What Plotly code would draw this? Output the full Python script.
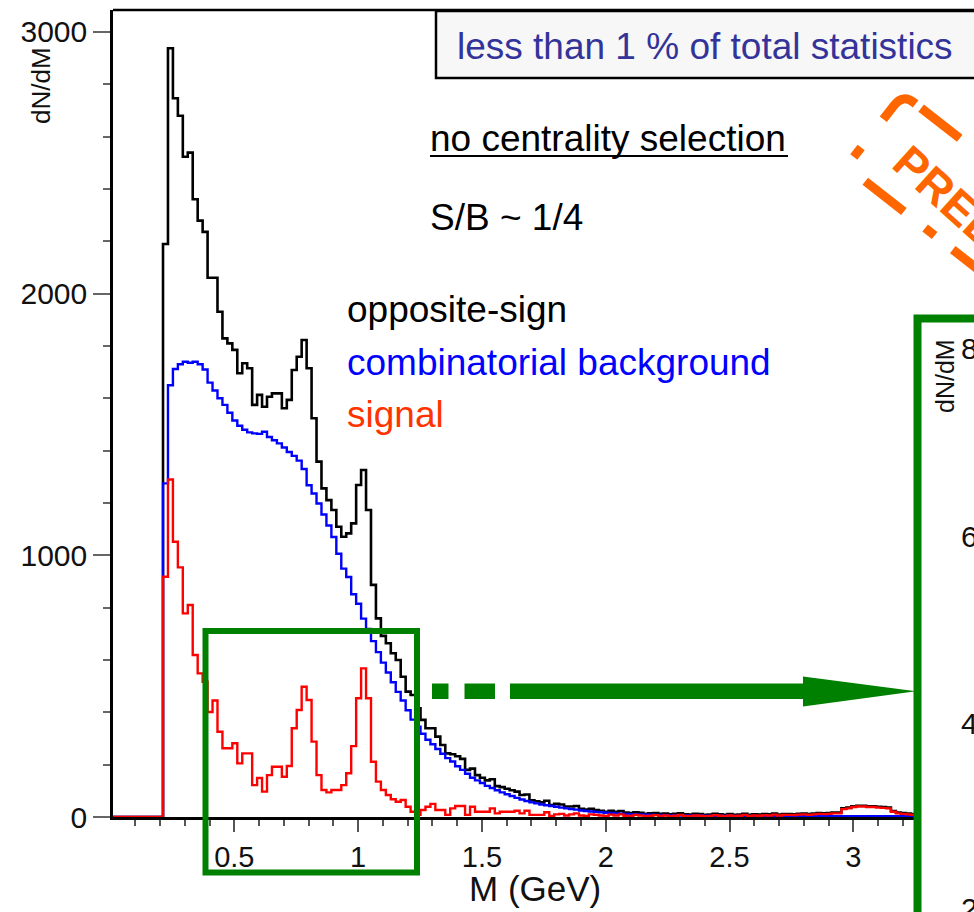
import math
import plotly.graph_objects as go

# ---------------- data ----------------
bin_start = 0.212      # GeV, lower edge of first filled bin
bin_width = 0.02       # GeV

opposite_sign = [
    2190, 2938, 2747, 2680, 2523, 2539, 2361, 2279, 2236, 2061,
    2061, 1931, 1829, 1810, 1785, 1696, 1734, 1715, 1575, 1613,
    1568, 1606, 1619, 1619, 1562, 1594, 1708, 1759, 1823, 1715,
    1524, 1358, 1256, 1211, 1173, 1109, 1071, 1084, 1122, 1269,
    1326, 1173, 887, 759, 692, 664, 626, 600, 536, 479,
    466, 415, 371, 339, 339, 307, 275, 243, 240, 232,
    222, 180, 185, 160, 150, 140, 144, 118, 114, 108,
    102, 97, 84, 86, 64, 60, 56, 62, 46, 50,
    48, 40, 40, 42, 31, 28, 31, 27, 24, 20,
    24, 20, 23, 17, 15, 18, 16, 12, 14, 15,
    12, 13, 10, 12, 14, 10, 9, 12, 11, 8,
    9, 12, 10, 8, 11, 8, 9, 12, 8, 10,
    9, 11, 10, 13, 9, 11, 11, 10, 12, 13,
    11, 13, 15, 14, 15, 17, 17, 33, 36, 41,
    43, 43, 41, 41, 39, 38, 36, 23, 17, 15,
    13, 11, 11, 9, 9, 9,
]

comb_background = [
    1275, 1650, 1712, 1730, 1740, 1736, 1740, 1730, 1710, 1660,
    1630, 1600, 1575, 1545, 1515, 1495, 1480, 1470, 1466, 1464,
    1472, 1452, 1440, 1428, 1412, 1395, 1380, 1362, 1330, 1268,
    1236, 1198, 1156, 1114, 1070, 1006, 949, 917, 851, 815,
    758, 719, 672, 630, 590, 552, 515, 478, 445, 408,
    372, 345, 318, 295, 278, 260, 242, 225, 212, 194,
    180, 165, 150, 140, 130, 119, 111, 102, 94, 87,
    80, 73, 67, 61, 56, 52, 48, 45, 42, 39,
    36, 33, 30, 28, 25, 23, 21, 19, 18, 16,
    15, 14, 13, 12, 11, 10, 10, 9, 9, 8,
    8, 7, 7, 7, 6, 6, 6, 6, 6, 5,
    5, 5, 5, 5, 5, 4, 4, 4, 4, 4,
    4, 4, 4, 4, 3, 3, 3, 3, 3, 3,
    3, 3, 3, 3, 3, 3, 3, 3, 3, 3,
    3, 3, 3, 3, 3, 3, 3, 3, 3, 3,
    3, 3, 3, 3, 3, 3,
]

signal = [
    918, 1290, 1052, 954, 778, 810, 619, 549, 517, 401,
    445, 326, 263, 263, 282, 205, 243, 243, 122, 149,
    97, 160, 192, 192, 154, 195, 339, 409, 498, 447,
    288, 160, 103, 94, 103, 103, 122, 167, 271, 454,
    568, 454, 211, 135, 103, 84, 68, 58, 65, 39,
    20, 8, 27, 39, 50, 27, 27, 8, 33, 42,
    42, 8, 39, 20, 20, 20, 33, 14, 20, 20,
    20, 24, 14, 24, 8, 8, 8, 18, 4, 10,
    12, 6, 10, 14, 6, 4, 10, 8, 6, 4,
    9, 6, 10, 5, 4, 8, 6, 3, 5, 7,
    4, 6, 3, 5, 8, 4, 3, 6, 5, 3,
    4, 7, 5, 3, 6, 4, 5, 8, 4, 6,
    5, 7, 6, 9, 6, 8, 8, 7, 9, 10,
    8, 10, 12, 11, 12, 14, 14, 30, 33, 38,
    40, 40, 38, 38, 36, 35, 33, 20, 14, 12,
    10, 8, 8, 6, 6, 6,
]

x_tick_vals = [0.5, 1, 1.5, 2, 2.5, 3]
x_tick_text = ["0.5", "1", "1.5", "2", "2.5", "3"]
y_tick_vals = [0, 1000, 2000, 3000]
y_tick_text = ["0", "1000", "2000", "3000"]
inset_tick_text = ["800", "600", "400", "200"]

series_names = ["opposite-sign", "combinatorial background", "signal"]
series_colors = ["#000000", "#0000ff", "#ff0000"]

# ---------------- layout geometry ----------------
W, H = 974, 912
ML, MR, MT, MB = 113, 0, 10, 95
PW, PH = W - ML - MR, H - MT - MB
X_RANGE = [0.01, 3.4875]
Y_RANGE = [0, 3084]

FONT = "Liberation Sans, Arial, Helvetica, sans-serif"


def fx(p):
    return (p - ML) / PW


def fy(p):
    return (H - MB - p) / PH


def step_xy(values):
    edges = [bin_start + i * bin_width for i in range(len(values) + 1)]
    xs = [X_RANGE[0]] + edges
    ys = [0] + list(values) + [values[-1]]
    return xs, ys


fig = go.Figure()
for vals, name, col, w in zip([opposite_sign, comb_background, signal],
                              series_names, series_colors, [2.6, 2.4, 2.4]):
    xs, ys = step_xy(vals)
    fig.add_trace(go.Scatter(x=xs, y=ys, mode="lines", name=name,
                             line=dict(color=col, width=w, shape="hv"),
                             hoverinfo="skip", cliponaxis=True))

shapes = []
annotations = []

# top frame line
shapes.append(dict(type="line", xref="paper", yref="paper", x0=0, x1=1.05,
                   y0=1, y1=1, line=dict(color="black", width=2.5), layer="above"))

# statistics box
shapes.append(dict(type="rect", xref="paper", yref="paper",
                   x0=fx(436), x1=fx(1000), y0=fy(78), y1=fy(11),
                   fillcolor="#f7f7f7", line=dict(color="black", width=2.5), layer="above"))
annotations.append(dict(text="less than 1 % of total statistics", xref="paper", yref="paper",
                        x=fx(455), y=fy(46), xanchor="left", yanchor="middle", showarrow=False,
                        font=dict(family=FONT, size=37, color="#333399")))

# text labels
def label(txt, px_, py_, color="black", size=37):
    annotations.append(dict(text=txt, xref="paper", yref="paper", x=fx(px_), y=fy(py_),
                            xanchor="left", yanchor="middle", showarrow=False,
                            font=dict(family=FONT, size=size, color=color)))

label("no centrality selection", 428, 138)
shapes.append(dict(type="line", xref="paper", yref="paper", x0=fx(430), x1=fx(788),
                   y0=fy(156), y1=fy(156), line=dict(color="black", width=2)))
label("S/B ~ 1/4", 428, 217)
label(series_names[0], 345, 309, "black")
label(series_names[1], 345, 362, "#0000ff")
label(series_names[2], 345, 415, "#ff3300")

# axis titles
annotations.append(dict(text="M (GeV)", xref="paper", yref="paper", x=fx(535), y=fy(888),
                        xanchor="center", yanchor="middle", showarrow=False,
                        font=dict(family=FONT, size=35, color="#111111")))
annotations.append(dict(text="dN/dM", xref="paper", yref="paper", x=fx(41), y=fy(86),
                        xanchor="center", yanchor="middle", showarrow=False, textangle=-90,
                        font=dict(family=FONT, size=26, color="#111111")))

GREEN = "#008000"
# zoom box
shapes.append(dict(type="rect", xref="paper", yref="paper",
                   x0=fx(205.5), x1=fx(417), y0=fy(872.5), y1=fy(631),
                   line=dict(color=GREEN, width=6), layer="above"))

# dashed arrow
def rect_path(x0, x1, y0, y1):
    return (f"M {fx(x0)} {fy(y0)} L {fx(x1)} {fy(y0)} L {fx(x1)} {fy(y1)} "
            f"L {fx(x0)} {fy(y1)} Z")

arrow_y0, arrow_y1 = 683.5, 699
for a, b in [(432, 448.5), (464.5, 495), (510, 804)]:
    shapes.append(dict(type="path", xref="paper", yref="paper", path=rect_path(a, b, arrow_y0, arrow_y1),
                       fillcolor=GREEN, line=dict(width=0), layer="above"))
head = (f"M {fx(803)} {fy(676.5)} L {fx(916)} {fy(691.3)} L {fx(803)} {fy(706.5)} Z")
shapes.append(dict(type="path", xref="paper", yref="paper", path=head,
                   fillcolor=GREEN, line=dict(width=0), layer="above"))

# inset box (cut at the figure edge)
shapes.append(dict(type="rect", xref="paper", yref="paper",
                   x0=fx(917.5), x1=fx(1200), y0=fy(1200), y1=fy(318.5),
                   fillcolor="white", line=dict(color=GREEN, width=8), layer="above"))
for txt, yy in zip(inset_tick_text, [348, 536, 723, 908]):
    annotations.append(dict(text=txt, xref="paper", yref="paper", x=fx(959), y=fy(yy),
                            xanchor="left", yanchor="middle", showarrow=False,
                            font=dict(family=FONT, size=30, color="#111111")))
annotations.append(dict(text="dN/dM", xref="paper", yref="paper", x=fx(945), y=fy(376),
                        xanchor="center", yanchor="middle", showarrow=False, textangle=-90,
                        font=dict(family=FONT, size=25, color="#111111")))

# PRELIMINARY stamp
ORANGE = "#ff6600"
ang = math.radians(38)
ux, uy = math.cos(ang), math.sin(ang)
vx, vy = -math.sin(ang), math.cos(ang)
CX, CY = 903, 94


def loc(a, b):
    return CX + a * ux + b * vx, CY + a * uy + b * vy


def P(a, b):
    x, y = loc(a, b)
    return f"{fx(x)} {fy(y)}"

r = 14
stamp = (f"M {P(0, 32)} L {P(0, r)} Q {P(0, 0)} {P(r, 0)} L {P(16, 0)} "
         f"M {P(23, 0)} L {P(72, 0)} "
         f"M {P(0, 68)} L {P(0, 80)} "
         f"M {P(24, 92)} L {P(73, 92)} "
         f"M {P(100, 92)} L {P(112, 92)} "
         f"M {P(135, 92)} L {P(184, 92)} "
         f"M {P(100, 0)} L {P(112, 0)}")
shapes.append(dict(type="path", xref="paper", yref="paper", path=stamp,
                   line=dict(color=ORANGE, width=9), layer="above"))
t_ang = 42
t_size = 46
tw = 7.089 * t_size
sx, sy = loc(30, 49)
tcx = sx + tw / 2 * math.cos(math.radians(t_ang))
tcy = sy + tw / 2 * math.sin(math.radians(t_ang))
annotations.append(dict(text="<b>PRELIMINARY</b>", xref="paper", yref="paper",
                        x=fx(tcx), y=fy(tcy), xanchor="center", yanchor="middle",
                        showarrow=False, textangle=t_ang,
                        font=dict(family=FONT, size=t_size, color=ORANGE)))

fig.update_layout(
    width=W, height=H,
    margin=dict(l=ML, r=MR, t=MT, b=MB, pad=0),
    paper_bgcolor="white", plot_bgcolor="white",
    showlegend=False,
    shapes=shapes, annotations=annotations,
    font=dict(family=FONT, color="#111111"),
)
fig.update_xaxes(range=X_RANGE, showgrid=False, zeroline=False,
                 showline=True, linecolor="black", linewidth=2.5,
                 ticks="outside", ticklen=12, tickwidth=1.5, tickcolor="#555555",
                 tickvals=x_tick_vals, ticktext=x_tick_text,
                 tickfont=dict(family=FONT, size=29, color="#111111"),
                 minor=dict(ticks="outside", dtick=0.1, tick0=0, ticklen=6,
                            tickwidth=1.5, tickcolor="#555555", showgrid=False))
fig.update_yaxes(range=Y_RANGE, showgrid=False, zeroline=False,
                 showline=True, linecolor="black", linewidth=2.5,
                 ticks="outside", ticklen=17, tickwidth=1.5, tickcolor="#666666",
                 tickvals=y_tick_vals, ticktext=y_tick_text,
                 tickfont=dict(family=FONT, size=30, color="#111111"),
                 minor=dict(ticks="outside", dtick=200, tick0=0, ticklen=7,
                            tickwidth=1.5, tickcolor="#666666", showgrid=False))

fig.write_html("out.html")
